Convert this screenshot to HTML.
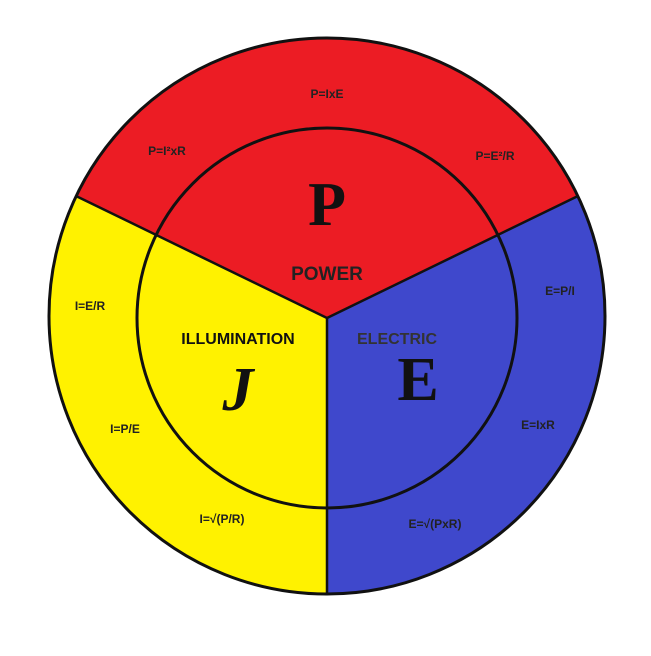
<!DOCTYPE html>
<html><head><meta charset="utf-8"><style>
html,body{margin:0;padding:0;background:#fff;}
svg text{font-family:"Liberation Sans",sans-serif;font-weight:bold;text-anchor:middle;}
</style></head><body>
<svg width="651" height="651" viewBox="0 0 651 651" xmlns="http://www.w3.org/2000/svg">
<circle cx="327" cy="316" r="278" fill="#3f48cc"/>
<path d="M327,318 L327,594 A278,278 0 0 1 76,196 Z" fill="#fff200"/>
<path d="M327,318 L76,196 A278,278 0 0 1 578,196 Z" fill="#ec1c24"/>
<circle cx="327" cy="316" r="278" fill="none" stroke="#111" stroke-width="3"/>
<circle cx="327" cy="318" r="190" fill="none" stroke="#111" stroke-width="3"/>
<line x1="327" y1="318" x2="327" y2="594" stroke="#111" stroke-width="2.5"/>
<line x1="327" y1="318" x2="76" y2="196" stroke="#111" stroke-width="2.5"/>
<line x1="327" y1="318" x2="578" y2="196" stroke="#111" stroke-width="2.5"/>
<g font-size="12" fill="#222">
<text x="327" y="98">P=IxE</text>
<text x="167" y="155">P=I²xR</text>
<text x="495" y="160">P=E²/R</text>
<text x="90" y="310">I=E/R</text>
<text x="125" y="433">I=P/E</text>
<text x="222" y="523">I=√(P/R)</text>
<text x="560" y="295">E=P/I</text>
<text x="538" y="429">E=IxR</text>
<text x="435" y="528">E=√(PxR)</text>
</g>
<text x="327" y="280" font-size="19" fill="#222">POWER</text>
<text x="238" y="344" font-size="16" fill="#111">ILLUMINATION</text>
<text x="397" y="344" font-size="16" fill="#333">ELECTRIC</text>
<g font-size="62" fill="#111">
<text x="327" y="225" style="font-family:'Liberation Serif',serif">P</text>
<text x="238" y="410" style="font-family:'Liberation Serif',serif;font-style:italic">J</text>
<text x="418" y="400" style="font-family:'Liberation Serif',serif">E</text>
</g>
</svg>
</body></html>
